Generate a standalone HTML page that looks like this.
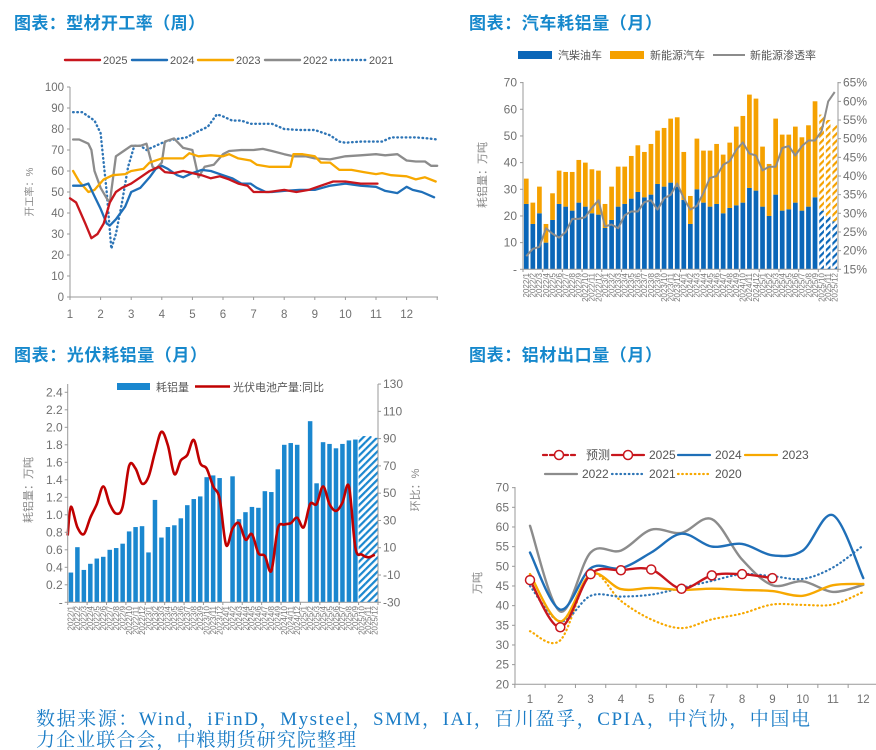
<!DOCTYPE html>
<html><head><meta charset="utf-8">
<style>
html,body{margin:0;padding:0;background:#fff;}
svg{display:block;font-family:"Liberation Sans","Noto Sans CJK SC",sans-serif;}
.t{font-family:"Liberation Sans","Noto Sans CJK SC",sans-serif;font-weight:bold;font-size:17px;fill:#1688cc;}
.ax{fill:#707070;font-size:11.5px;}
.lg{fill:#555;font-size:11px;}
.xl{fill:#777;font-size:8px;}
.ft{font-family:"Liberation Serif","Noto Serif CJK SC",serif;font-size:19px;fill:#1a7cc6;}
</style></head>
<body>
<svg id="s" width="876" height="750" viewBox="0 0 876 750" xmlns="http://www.w3.org/2000/svg">
<defs>
<pattern id="hb" patternUnits="userSpaceOnUse" width="5" height="5" patternTransform="rotate(45)"><rect width="2.2" height="5" fill="#0a66b8"/></pattern>
<pattern id="ho" patternUnits="userSpaceOnUse" width="5" height="5" patternTransform="rotate(45)"><rect width="2.2" height="5" fill="#f5a100"/></pattern>
<pattern id="hc" patternUnits="userSpaceOnUse" width="5" height="5" patternTransform="rotate(45)"><rect width="2.2" height="5" fill="#1a87cf"/></pattern>
</defs>
<text class="t" x="14" y="29" textLength="191">图表：型材开工率（周）</text>
<text class="t" x="469" y="29" textLength="193">图表：汽车耗铝量（月）</text>
<text class="t" x="14" y="361" textLength="193">图表：光伏耗铝量（月）</text>
<text class="t" x="469" y="361" textLength="193">图表：铝材出口量（月）</text>
<text class="ft" x="36" y="725" textLength="774">数据来源：Wind，iFinD，Mysteel，SMM，IAI，百川盈孚，CPIA，中汽协，中国电</text>
<text class="ft" x="36" y="746" textLength="320">力企业联合会，中粮期货研究院整理</text>
<g id="c1"></g>
<g id="c2"></g>
<g id="c3"></g>
<g id="c4"></g>
</svg>
<script>
// ===== Chart 1 data (x in month units, value %) =====
const c1_2025x=[1.0,1.2,1.5,1.7,1.9,2.1,2.3,2.5,2.7,3,3.3,3.6,3.9,4.1,4.4,4.7,5,5.3,5.6,5.9,6.2,6.5,6.8,7,7.5,8,8.4,8.8,9.2,9.6,10,10.5,11.05];
const c1_2025v=[47,45,35,28,30,35,45,50,52,54,57,60,62,59.5,59,60,59,58,56.5,57.5,56,54,53,50,50,51,50,51,53,55,55,54,54];
const c1_2024x=[1.1,1.4,1.6,1.8,2.0,2.2,2.3,2.5,2.8,3.0,3.3,3.6,3.8,4.0,4.2,4.5,4.7,5,5.3,5.6,6,6.3,6.6,6.9,7.1,7.4,7.6,8,8.5,9,9.5,10,10.5,11,11.3,11.7,12.0,12.2,12.5,12.9];
const c1_2024v=[53,53,54,48,42,35,34,37,43,50,52,57,61,62.5,61,58,57,59,60.5,60,58,56.5,54,54,52,50,50,50.5,51,51,53,54,53,52.5,50.5,49.5,52.5,51,50,47.5];
const c1_2023x=[1.1,1.3,1.6,1.8,2.1,2.4,2.8,3.0,3.4,3.6,4.0,4.3,4.7,4.9,5.2,5.6,6,6.2,6.5,6.9,7.1,7.5,8,8.2,8.3,8.6,9,9.2,9.5,9.8,10.2,10.6,11,11.2,11.5,12,12.3,12.6,12.95];
const c1_2023v=[60,55,50,51,56,58,58.5,60,61,64,66,66,66,68.5,67,67.5,67,68,66,65,63,62,62,62,68,68,67,64,64,60.5,60.5,59.5,58.5,59,58,57.5,56,57,55];
const c1_2022x=[1.1,1.3,1.6,1.7,1.8,2.0,2.2,2.3,2.5,2.8,3.0,3.3,3.5,3.7,3.8,4.0,4.1,4.4,4.7,5.0,5.2,5.4,5.7,6,6.2,6.6,7,7.3,7.6,8,8.3,8.7,9,9.5,10,10.5,11,11.3,11.7,12,12.3,12.6,12.8,13];
const c1_2022v=[75,75,73,70,60,52,47,45,67,70,72,72,73,62,61,64,74,75.5,71,70,57,62,63,68,69.5,70,70,70.5,69.5,68,67,67,66,65.5,67,67.5,68,67.5,68,65,64.5,64.5,62.5,62.5];
const c1_2021x=[1.1,1.4,1.8,2.0,2.2,2.35,2.5,2.7,2.9,3.1,3.3,3.5,3.8,4.1,4.4,4.8,5.2,5.5,5.8,6.0,6.3,6.6,6.9,7.2,7.6,8,8.5,9,9.5,9.8,10,10.5,11,11.2,11.5,12,12.3,12.7,13];
const c1_2021v=[88,88,84,78,50,23,30,45,62,72,72,70,72,74,75,76,79,81,87,86,84,84,82.5,82.5,82.5,80,79.5,79.5,77,74,73.5,74,74,74,76,76,76,75.5,75];
const c1_ticks=[0,10,20,30,40,50,60,70,80,90,100];
const c1_months=[1,2,3,4,5,6,7,8,9,10,11,12];

// ===== Chart 2 data =====
const c2_labels=[];for(let y=2022;y<=2025;y++)for(let m=1;m<=12;m++)c2_labels.push(y+'/'+m);
const c2_total=[34,25,31,17,28.5,37,36.5,36.5,41,40,37.5,37,24.5,31,38.5,38.5,42.5,46.5,44,47,52,53,56.5,57,44,27.5,49,44.5,44.5,47,43,47.5,53.5,57.5,65.5,64,46,39.5,56.5,50.5,50.5,53.5,49.5,54,63,58,56,54];
const c2_ice=[24.5,17,21,10,18.5,24.5,23.5,22,25,23.5,21,20.5,15.5,18.5,23.5,24.5,26.5,29,27,28,32,31,32.5,31,26,17,30,25,23.5,24.5,21,23,24,25,30.5,29.5,23.5,20,28,22,22.5,25,22,23.5,27,22,20,18];
const c2_rate=[18.5,20.5,21,26,24.5,23.5,25,28.5,28.5,29,31.5,33.5,26.5,27,26,29.5,30.5,30.5,33,33.5,31,34,35,38,34,31,32,35.5,39.5,40,43,44,47,49,46,45.5,41.5,42.5,42.5,47.5,48,45.5,48,49.5,49.5,52,60,62.5];
const c2_forecastFrom=45;
const c2_ticksL=[0,10,20,30,40,50,60,70];
const c2_ticksR=[15,20,25,30,35,40,45,50,55,60,65];

// ===== Chart 3 data =====
const c3_bars=[0.34,0.63,0.37,0.44,0.50,0.52,0.60,0.62,0.67,0.81,0.86,0.87,0.57,1.17,0.74,0.86,0.88,0.96,1.11,1.18,1.21,1.43,1.45,1.42,0,1.44,0.95,1.03,1.09,1.08,1.27,1.26,1.52,1.80,1.82,1.80,0,2.07,1.36,1.83,1.81,1.76,1.81,1.85,1.86,1.90,1.90,1.88];
const c3_yoy=[40,25,20,32,42,55,42,35,40,70,68,57,62,80,95,85,64,74,78,89,72,68,55,46,12,24,28,16,20,6,4,-7,24,27,28,32,25,42,42,55,42,37,43,55,10,5,3,5];
const c3_forecastFrom=45;
const c3_ticksL=[0,0.2,0.4,0.6,0.8,1.0,1.2,1.4,1.6,1.8,2.0,2.2,2.4];
const c3_ticksR=[-30,-10,10,30,50,70,90,110,130];

// ===== Chart 4 data =====
const c4_months=[1,2,3,4,5,6,7,8,9,10,11,12];
const c4_2025=[46.5,34.5,48,49,49.2,44.3,47.7,48,47];
const c4_2024=[53.5,39,49.5,49.5,53.5,58.3,55,55.7,52.8,54,63,47];
const c4_2023=[48,36,48,44.2,44.5,44,44.3,44,43.7,42.5,45.2,45.5];
const c4_2022=[60.3,38.5,53.5,54,59.3,58.5,62,51.7,45.2,46.2,43.5,45.3];
const c4_2021=[45,36,42.5,42.3,42.8,44.5,46.3,48,47.5,46.8,49.7,55.3];
const c4_2020=[33.5,31.2,48,41.2,36.5,34.3,36.5,38,40.3,40.2,40.3,43.5];
const c4_ticks=[20,25,30,35,40,45,50,55,60,65,70];

const NS='http://www.w3.org/2000/svg';
const DOT='0.6 3.6';
function mk(tag,attrs,parent){const e=document.createElementNS(NS,tag);for(const k in attrs)e.setAttribute(k,attrs[k]);parent.appendChild(e);return e;}
function poly(pts){return pts.map((p,i)=>(i?'L':'M')+p[0].toFixed(1)+','+p[1].toFixed(1)).join('');}
function smooth(pts){let d='M'+pts[0][0]+','+pts[0][1];for(let i=0;i<pts.length-1;i++){const p0=pts[i-1]||pts[i],p1=pts[i],p2=pts[i+1],p3=pts[i+2]||p2;const c1=[p1[0]+(p2[0]-p0[0])/6,p1[1]+(p2[1]-p0[1])/6],c2=[p2[0]-(p3[0]-p1[0])/6,p2[1]-(p3[1]-p1[1])/6];d+='C'+c1[0].toFixed(1)+','+c1[1].toFixed(1)+' '+c2[0].toFixed(1)+','+c2[1].toFixed(1)+' '+p2[0].toFixed(1)+','+p2[1].toFixed(1);}return d;}
function txt(parent,x,y,s,cls,anchor){const e=mk('text',{x:x,y:y,class:cls,'text-anchor':anchor||'start'},parent);e.textContent=s;return e;}

// ================= CHART 1 =================
(function(){
const g=document.getElementById('c1');
const X=m=>70+(m-1)*30.6, Y=v=>297-v*2.1;
let e=mk('line',{x1:70,y1:87,x2:70,y2:297,stroke:'#999'},g);


e=mk('line',{x1:70,y1:297,x2:438,y2:297,stroke:'#999'},g);


c1_ticks.forEach(v=>{mk('line',{x1:67,y1:Y(v),x2:70,y2:Y(v),stroke:'#999'},g);
 e=txt(g,64,Y(v)+4,String(v),'ax','end');
 
 });
c1_months.concat([13]).forEach(m=>mk('line',{x1:X(m),y1:297,x2:X(m),y2:300,stroke:'#999'},g));
c1_months.forEach(m=>{e=txt(g,X(m),318,String(m),'ax','middle');
 
 });
e=txt(g,0,0,'开工率：%','ax','middle');
e.setAttribute('transform','translate(33,192) rotate(-90)');e.setAttribute('style','font-size:10px;fill:#888');


const series=[[c1_2021x,c1_2021v,'#2e75b6',DOT,'2021'],[c1_2022x,c1_2022v,'#8c8c8c','','2022'],[c1_2023x,c1_2023v,'#f7a800','','2023'],[c1_2024x,c1_2024v,'#1f6fb8','','2024'],[c1_2025x,c1_2025v,'#c8161d','','2025']];
series.forEach(s=>{const pts=s[0].map((x,i)=>[X(x),Y(s[1][i])]);
 e=mk('path',{d:poly(pts),fill:'none',stroke:s[2],'stroke-width':s[3]?2.4:2.3,'stroke-dasharray':s[3],'stroke-linejoin':'round','stroke-linecap':'round'},g);
 
 });
const leg=[['2025','#c8161d','',65],['2024','#1f6fb8','',132],['2023','#f7a800','',198],['2022','#8c8c8c','',265],['2021','#2e75b6',DOT,331]];
leg.forEach(l=>{e=mk('line',{x1:l[3],y1:60,x2:l[3]+35,y2:60,stroke:l[1],'stroke-width':2.4,'stroke-dasharray':l[2],'stroke-linecap':'round'},g);
 
 
 e=txt(g,l[3]+38,64,l[0],'lg');
 
 });
})();

// ================= CHART 2 =================
(function(){
const g=document.getElementById('c2');
const x0=523,x1=838,n=c2_total.length,sp=(x1-x0)/n;
const Y=v=>269.3-v*2.667, YR=p=>269.3-(p-15)*3.732;
let e;
c2_total.forEach((t,i)=>{const cx=x0+sp*(i+0.5),w=4.7,ice=c2_ice[i];const f=i>=c2_forecastFrom;
 e=mk('rect',{x:cx-w/2,y:Y(ice),width:w,height:Y(0)-Y(ice),fill:f?'url(#hb)':'#0a66b8'},g);
 
 
 e=mk('rect',{x:cx-w/2,y:Y(t),width:w,height:Y(ice)-Y(t),fill:f?'url(#ho)':'#f5a100'},g);
 
 
 e=txt(g,0,0,c2_labels[i],'xl','end');
 e.setAttribute('transform','translate('+(cx+2.8)+',273) rotate(-90)');
 
 });
e=mk('path',{d:poly(c2_rate.map((p,i)=>[x0+sp*(i+0.5),YR(p)])),fill:'none',stroke:'#8c8c8c','stroke-width':2,'stroke-linejoin':'round'},g);


e=mk('line',{x1:x0,y1:82,x2:x0,y2:269.3,stroke:'#999'},g);


e=mk('line',{x1:x1,y1:82,x2:x1,y2:269.3,stroke:'#999'},g);


e=mk('line',{x1:x0,y1:269.3,x2:x1,y2:269.3,stroke:'#999'},g);


for(let i=0;i<=n;i+=3)mk('line',{x1:x0+sp*i,y1:269.3,x2:x0+sp*i,y2:272,stroke:'#999'},g);
c2_ticksL.forEach(v=>{mk('line',{x1:x0-3,y1:Y(v),x2:x0,y2:Y(v),stroke:'#999'},g);
 e=txt(g,x0-6,Y(v)+4,v===0?'-':String(v),'ax','end');e.setAttribute('style','font-size:12px');
 
 });
c2_ticksR.forEach(p=>{mk('line',{x1:x1,y1:YR(p),x2:x1+3,y2:YR(p),stroke:'#999'},g);
 e=txt(g,x1+5,YR(p)+4,p+'%','ax');e.setAttribute('style','font-size:12px');
 
 });
e=txt(g,0,0,'耗铝量：万吨','ax','middle');
e.setAttribute('transform','translate(486,175) rotate(-90)');e.setAttribute('style','font-size:11px;fill:#888');


e=mk('rect',{x:518,y:51,width:34,height:8,fill:'#0a66b8'},g);


e=txt(g,558,59,'汽柴油车','lg');


e=mk('rect',{x:610,y:51,width:34,height:8,fill:'#f5a100'},g);


e=txt(g,650,59,'新能源汽车','lg');


e=mk('line',{x1:713,y1:55,x2:745,y2:55,stroke:'#8c8c8c','stroke-width':2},g);


e=txt(g,750,59,'新能源渗透率','lg');


})();

// ================= CHART 3 =================
(function(){
const g=document.getElementById('c3');
const x0=67.7,x1=378,n=c3_bars.length,sp=(x1-x0)/n;
const Y=v=>602.3-v*87.5, YR=v=>602.3-(v+30)*1.364;
let e;
c3_bars.forEach((v,i)=>{const cx=x0+sp*(i+0.5);
 e=txt(g,0,0,c2_labels[i],'xl','end');
 e.setAttribute('transform','translate('+(cx+2.8)+',606) rotate(-90)');
 
 
 if(v<=0)return;const f=i>=c3_forecastFrom,w=f?sp:4.5;
 e=mk('rect',{x:cx-w/2,y:Y(v),width:w,height:Y(0)-Y(v),fill:f?'url(#hc)':'#1a87cf'},g);
 
 });
const pts=[[x0,YR(19)]].concat(c3_yoy.map((v,i)=>[x0+sp*(i+0.5),YR(v)]));
e=mk('path',{d:smooth(pts),fill:'none',stroke:'#c00000','stroke-width':2.6,'stroke-linejoin':'round'},g);


e=mk('line',{x1:x0,y1:384,x2:x0,y2:602.3,stroke:'#999'},g);


e=mk('line',{x1:x1,y1:384,x2:x1,y2:602.3,stroke:'#999'},g);


e=mk('line',{x1:x0,y1:602.3,x2:x1,y2:602.3,stroke:'#999'},g);


for(let i=0;i<=n;i+=3)mk('line',{x1:x0+sp*i,y1:602.3,x2:x0+sp*i,y2:605,stroke:'#999'},g);
c3_ticksL.forEach(v=>{mk('line',{x1:x0-3,y1:Y(v),x2:x0,y2:Y(v),stroke:'#999'},g);
 e=txt(g,x0-5,Y(v)+4,v===0?'-':v.toFixed(1),'ax','end');e.setAttribute('style','font-size:12px');
 
 });
c3_ticksR.forEach(v=>{mk('line',{x1:x1,y1:YR(v),x2:x1+3,y2:YR(v),stroke:'#999'},g);
 e=txt(g,x1+5,YR(v)+4,String(v),'ax');e.setAttribute('style','font-size:12px');
 
 });
e=txt(g,0,0,'耗铝量：万吨','ax','middle');
e.setAttribute('transform','translate(32,490) rotate(-90)');e.setAttribute('style','font-size:11px;fill:#888');


e=txt(g,0,0,'环比：%','ax','middle');
e.setAttribute('transform','translate(419,490) rotate(-90)');e.setAttribute('style','font-size:11px;fill:#888');


e=mk('rect',{x:117,y:383,width:33,height:7,fill:'#1a87cf'},g);


e=txt(g,156,391,'耗铝量','lg');


e=mk('line',{x1:195,y1:386.5,x2:230,y2:386.5,stroke:'#c00000','stroke-width':2.6},g);


e=txt(g,233,391,'光伏电池产量:同比','lg');


})();

// ================= CHART 4 =================
(function(){
const g=document.getElementById('c4');
const X=m=>530+(m-1)*30.3, Y=v=>684.3-(v-20)*3.933;
let e;
e=mk('line',{x1:515,y1:487,x2:515,y2:684.3,stroke:'#999'},g);


e=mk('line',{x1:515,y1:684.3,x2:876,y2:684.3,stroke:'#999'},g);


c4_ticks.forEach(v=>{mk('line',{x1:512,y1:Y(v),x2:515,y2:Y(v),stroke:'#999'},g);
 e=txt(g,509,Y(v)+4,String(v),'ax','end');e.setAttribute('style','font-size:12px');
 
 });
c4_months.forEach(m=>{mk('line',{x1:X(m)-15.15,y1:684.3,x2:X(m)-15.15,y2:688,stroke:'#999'},g);
 e=txt(g,X(m),703,String(m),'ax','middle');
 
 });
e=txt(g,0,0,'万吨','ax','middle');
e.setAttribute('transform','translate(481,583) rotate(-90)');e.setAttribute('style','font-size:11px;fill:#888');


const series=[[c4_2020,'#f7a800',DOT,'2020'],[c4_2021,'#2e75b6',DOT,'2021'],[c4_2022,'#8c8c8c','','2022'],[c4_2023,'#f7a800','','2023'],[c4_2024,'#1f6fb8','','2024'],[c4_2025,'#c8161d','','2025']];
series.forEach(s=>{const pts=s[0].map((v,i)=>[X(c4_months[i]),Y(v)]);
 e=mk('path',{d:smooth(pts),fill:'none',stroke:s[1],'stroke-width':s[2]?2.2:2.4,'stroke-dasharray':s[2],'stroke-linecap':'round'},g);
 
 });
c4_2025.forEach((v,i)=>{e=mk('circle',{cx:X(c4_months[i]),cy:Y(v),r:4.5,fill:'#fff',stroke:'#c8161d','stroke-width':1.5},g);
 
 });
const leg=[[543,455,'#c8161d','4 3','预测',true],[612,455,'#c8161d','','2025',true],[678,455,'#1f6fb8','','2024',false],[745,455,'#f7a800','','2023',false],[545,474,'#8c8c8c','','2022',false],[612,474,'#2e75b6',DOT,'2021',false],[678,474,'#f7a800',DOT,'2020',false]];
leg.forEach(l=>{e=mk('line',{x1:l[0],y1:l[1],x2:l[0]+32,y2:l[1],stroke:l[2],'stroke-width':2.2,'stroke-dasharray':l[3],'stroke-linecap':'round'},g);
 
 
 if(l[5]){e=mk('circle',{cx:l[0]+16,cy:l[1],r:4.5,fill:'#fff',stroke:'#c8161d','stroke-width':1.5},g);
 
 }
 e=txt(g,l[0]+37+(l[4]==='预测'?6:0),l[1]+4,l[4],'lg');e.setAttribute('style','font-size:12px');
 
 });
})();
</script>
</body></html>
